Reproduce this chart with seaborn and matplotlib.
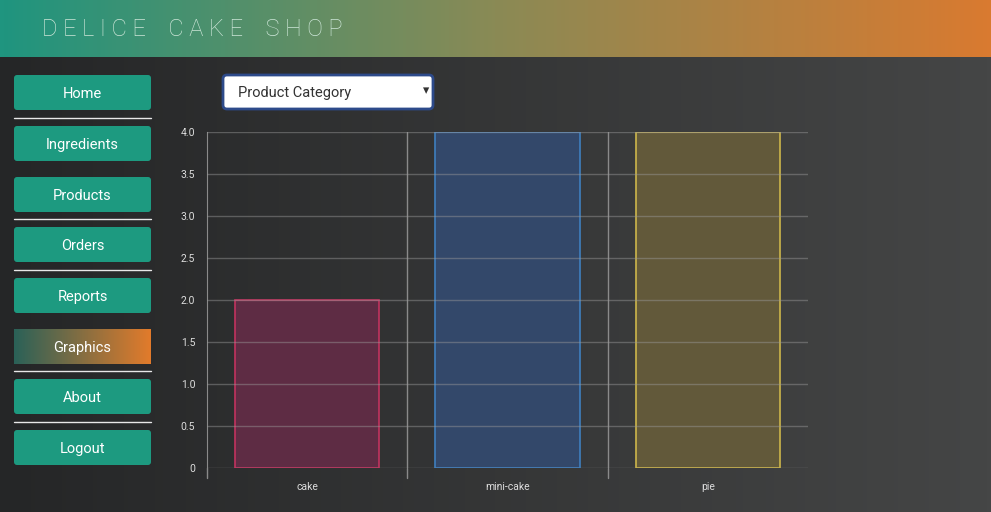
import numpy as np
import pandas as pd
import matplotlib as mpl
import matplotlib.pyplot as plt
from matplotlib.patches import FancyBboxPatch
import seaborn as sns

sns.set_style('dark')
plt.rcParams['font.family'] = ['Roboto', 'DejaVu Sans']

# DATA
categories = ['cake', 'mini-cake', 'pie']
counts = [2, 4, 4]
fills = ['#5e2c44', '#33486a', '#62593a']
edges = ['#c2335f', '#3f7fbf', '#cdb64a']
menu = ['Home', 'Ingredients', 'Products', 'Orders', 'Reports', 'Graphics', 'About', 'Logout']
menu_top = [75, 126, 177, 227, 278, 329, 379, 430]
sep_y = [118, 219, 270, 371, 422]

W, H = 991, 512
fig = plt.figure(figsize=(W / 100, H / 100), dpi=100)

# page background
bg = fig.add_axes([0, 0, 1, 1])
bg.set_xlim(0, W)
bg.set_ylim(H, 0)
bg.axis('off')
grad = np.linspace(0, 1, 256)[None, :]
dark = mpl.colors.LinearSegmentedColormap.from_list('d', ['#252627', '#454646'])
bg.imshow(grad, cmap=dark, extent=[0, W, H, 0], aspect='auto')
head = mpl.colors.LinearSegmentedColormap.from_list('h', ['#1f957f', '#8a8a55', '#d97a30'])
bg.imshow(grad, cmap=head, extent=[0, W, 57, 0], aspect='auto')
title = ' '.join('DELICE CAKE SHOP').replace('   ', '    ')
bg.text(42, 30, title, color='#cde6d8', fontsize=17, fontweight='light', va='center', ha='left')

for name, top in zip(menu, menu_top):
    if name == 'Graphics':
        gcm = mpl.colors.LinearSegmentedColormap.from_list('g', ['#2a6158', '#e27b2b'])
        bg.imshow(grad, cmap=gcm, extent=[14, 151, top + 35, top], aspect='auto', zorder=2)
    else:
        bg.add_patch(FancyBboxPatch((14, top), 137, 35, boxstyle='round,pad=0,rounding_size=3',
                                    fc='#1d9a80', ec='none', zorder=2))
    bg.text(82.5, top + 19, name, color='white', fontsize=10.5, ha='center', va='center', zorder=3)
for y in sep_y:
    bg.plot([14, 151], [y, y], color='#e8e8e8', lw=1)

# dropdown
bg.add_patch(FancyBboxPatch((223, 75), 210, 34, boxstyle='round,pad=0,rounding_size=4',
                            fc='white', ec='#2d4a8a', lw=2, zorder=2))
bg.text(238, 93, 'Product Category', color='#333333', fontsize=10.5, va='center', zorder=3)
bg.text(426, 91, '▾', color='#333333', fontsize=9, ha='center', va='center', zorder=3)

# chart
ax = fig.add_axes([207 / W, 1 - 468 / H, 601 / W, 336 / H])
ax.set_facecolor('none')
df = pd.DataFrame({'category': categories, 'count': counts})
sns.barplot(data=df, x='category', y='count', hue='category', palette=fills,
            saturation=1, width=0.72, legend=False, ax=ax, zorder=1)
for bar, ec in zip(ax.patches, edges):
    bar.set_edgecolor(ec)
    bar.set_linewidth(1.2)
ax.set_ylim(0, 4)
ax.set_xlim(-0.5, 2.5)
ax.set_yticks(np.arange(0, 4.01, 0.5))
ax.set_yticklabels(['0'] + [f'{v:.1f}' for v in np.arange(0.5, 4.01, 0.5)])
ax.set_axisbelow(False)
ax.grid(axis='y', color='#9a9a9a', lw=1, alpha=0.45, zorder=2)
for x in [0.5, 1.5]:
    ax.axvline(x, color='#8a8a8a', lw=1, zorder=0)
    ax.plot([x, x], [0, -0.12], color='#8a8a8a', lw=1, clip_on=False)
ax.plot([-0.5, -0.5], [0, -0.12], color='#8a8a8a', lw=1, clip_on=False)
for s in ax.spines.values():
    s.set_visible(False)
ax.spines['left'].set_visible(True)
ax.spines['left'].set_color('#8a8a8a')
ax.tick_params(axis='y', colors='#8a8a8a', labelcolor='#dddddd', labelsize=7.5, length=5, width=1)
ax.tick_params(axis='x', length=0, labelcolor='#dddddd', labelsize=7.5, pad=10)
ax.set_xlabel('')
ax.set_ylabel('')

plt.savefig('out.png', dpi=100)
